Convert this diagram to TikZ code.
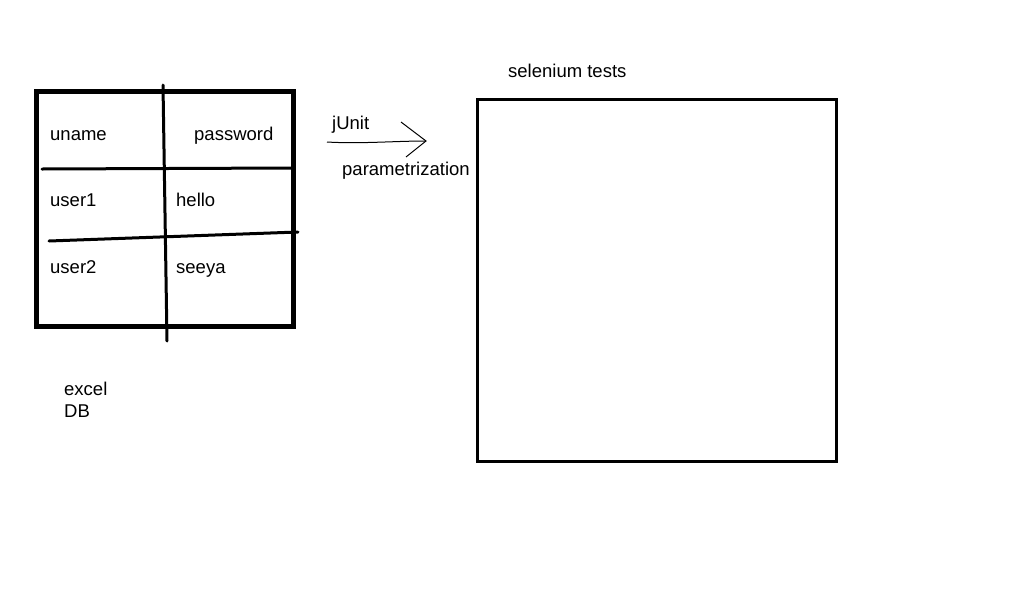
\documentclass[tikz,border=0pt]{standalone}
\usepackage{fontspec}
\setmainfont{Liberation Sans}
\tikzset{
  lbl/.style={anchor=base west,inner sep=0pt,font=\fontsize{18.5}{22}\selectfont},
  pen/.style={line width=3pt,line cap=round},
}
\begin{document}
\begin{tikzpicture}[x=1pt,y=-1pt]
            \useasboundingbox (0,0) rectangle (1018,611);
            \draw[line width=5pt] (36,91) rectangle (293,326);
            \draw[pen] (163,85) -- (167,341);
            \draw[pen] (42,169) -- (293,168);
            \draw[pen] (49,241) -- (298,232);
        %
            \draw (50,140) node[lbl] (uname){uname};
            \draw (194,140) node[lbl] (password){password};
            \draw (50,206) node[lbl] (user1){user1};
            \draw (176,206) node[lbl] (hello){hello};
            \draw (50,273) node[lbl] (user2){user2};
            \draw (176,273) node[lbl] (seeya){seeya};
            \draw (64,395) node[lbl] (excel){excel};
            \draw (64,417) node[lbl] (db){DB};
        %
            \draw[line width=3pt] (477,99) rectangle (836,461);
            \draw (508,77) node[lbl] (selenium){selenium tests};
        %
            \coordinate (from) at (327,142);
            \coordinate (tip) at (426,141);
            \coordinate (barbup) at (401,122);
            \coordinate (barbdown) at (406,157);
            \draw[line width=1pt] (from) .. controls (360,144) and (395,141) .. (tip);
            \draw[line width=1pt] (barbup) -- (tip) -- (barbdown);
            \draw (332,129) node[lbl] (junit){jUnit};
            \draw (342,175) node[lbl] (param){parametrization};
        \end{tikzpicture}
\end{document}
